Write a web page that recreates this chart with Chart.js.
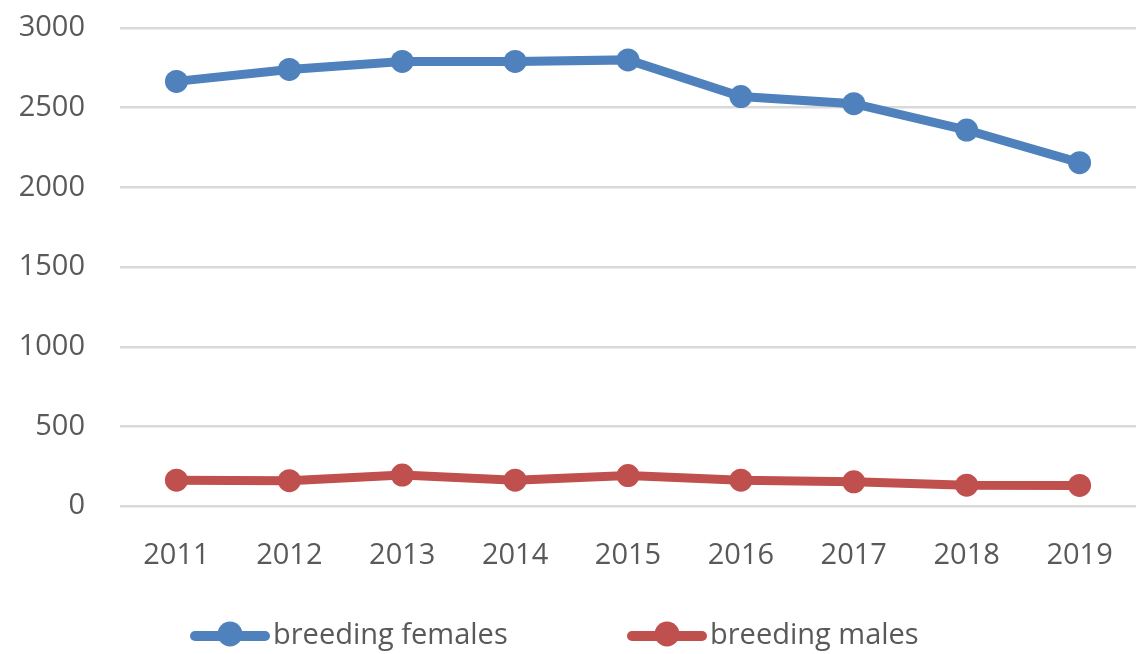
<!DOCTYPE html>
<html>
<head>
<meta charset="utf-8">
<script src="https://cdn.jsdelivr.net/npm/chart.js@4/dist/chart.umd.min.js"></script>
<style>
  html, body { margin: 0; padding: 0; background: #ffffff; }
  #wrap { width: 1136px; height: 654px; position: relative; }
</style>
</head>
<body>
<div id="wrap"><canvas id="c"></canvas></div>
<script>
const years = ['2011', '2012', '2013', '2014', '2015', '2016', '2017', '2018', '2019'];
const breedingFemales = [2665, 2740, 2790, 2790, 2800, 2570, 2525, 2360, 2155];
const breedingMales = [163, 160, 195, 163, 192, 163, 153, 132, 130];
const seriesNames = ['breeding females', 'breeding males'];
const seriesColors = ['#4F81BD', '#C0504D'];
const yTicks = [0, 500, 1000, 1500, 2000, 2500, 3000];

const FONT = '"Open Sans", sans-serif';
const FONT_SIZE = 29;
const TEXT_COLOR = '#595959';

const legendPlugin = {
  id: 'excelLegend',
  afterDraw(chart) {
    const ctx = chart.ctx;
    const ds = chart.data.datasets;
    ctx.save();
    ctx.font = '29px ' + FONT;
    const lineLen = 80, gapText = 3;
    const starts = [190, 627];
    const y = 636;
    ds.forEach((d, i) => {
      const x = starts[i];
      ctx.strokeStyle = d.borderColor;
      ctx.lineWidth = 10;
      ctx.lineCap = 'round';
      ctx.beginPath();
      ctx.moveTo(x + 5, y);
      ctx.lineTo(x + lineLen - 5, y);
      ctx.stroke();
      ctx.fillStyle = d.borderColor;
      ctx.beginPath();
      ctx.arc(x + lineLen / 2, y - 2, 12.5, 0, Math.PI * 2);
      ctx.fill();
      ctx.fillStyle = TEXT_COLOR;
      ctx.textBaseline = 'middle';
      ctx.textAlign = 'left';
      ctx.fillText(d.label, x + lineLen + gapText, y);
    });
    ctx.restore();
  }
};

new Chart(document.getElementById('c'), {
  type: 'line',
  data: {
    labels: years,
    datasets: [
      {
        label: seriesNames[0],
        data: breedingFemales,
        borderColor: seriesColors[0],
        backgroundColor: seriesColors[0],
        borderWidth: 9,
        pointRadius: 11.5,
        pointBorderWidth: 0,
        pointBackgroundColor: seriesColors[0],
        tension: 0
      },
      {
        label: seriesNames[1],
        data: breedingMales,
        borderColor: seriesColors[1],
        backgroundColor: seriesColors[1],
        borderWidth: 9,
        pointRadius: 11.5,
        pointBorderWidth: 0,
        pointBackgroundColor: seriesColors[1],
        tension: 0
      }
    ]
  },
  options: {
    responsive: true,
    maintainAspectRatio: false,
    animation: false,
    layout: { autoPadding: false, padding: { top: 28, left: 0, right: 0, bottom: 49 } },
    plugins: {
      legend: { display: false },
      tooltip: { enabled: false },
      title: { display: false }
    },
    scales: {
      x: {
        offset: true,
        afterFit(scale) { scale.paddingLeft = 0; scale.paddingRight = 0; },
        grid: { display: false, drawTicks: false },
        border: { display: false },
        ticks: {
          color: TEXT_COLOR,
          font: { family: FONT, size: FONT_SIZE },
          padding: 32,
          maxRotation: 0,
          autoSkip: false
        }
      },
      y: {
        min: 0,
        max: 3000,
        afterBuildTicks(scale) { scale.ticks = yTicks.map(v => ({ value: v })); },
        afterFit(scale) { scale.width = 120; scale.paddingTop = 0; scale.paddingBottom = 0; },
        grid: { color: '#D9D9D9', lineWidth: 2.5, drawTicks: false },
        border: { display: false },
        ticks: {
          color: TEXT_COLOR,
          font: { family: FONT, size: FONT_SIZE },
          padding: 35,
          callback: (v) => String(v)
        }
      }
    }
  },
  plugins: [legendPlugin]
});
</script>
</body>
</html>
